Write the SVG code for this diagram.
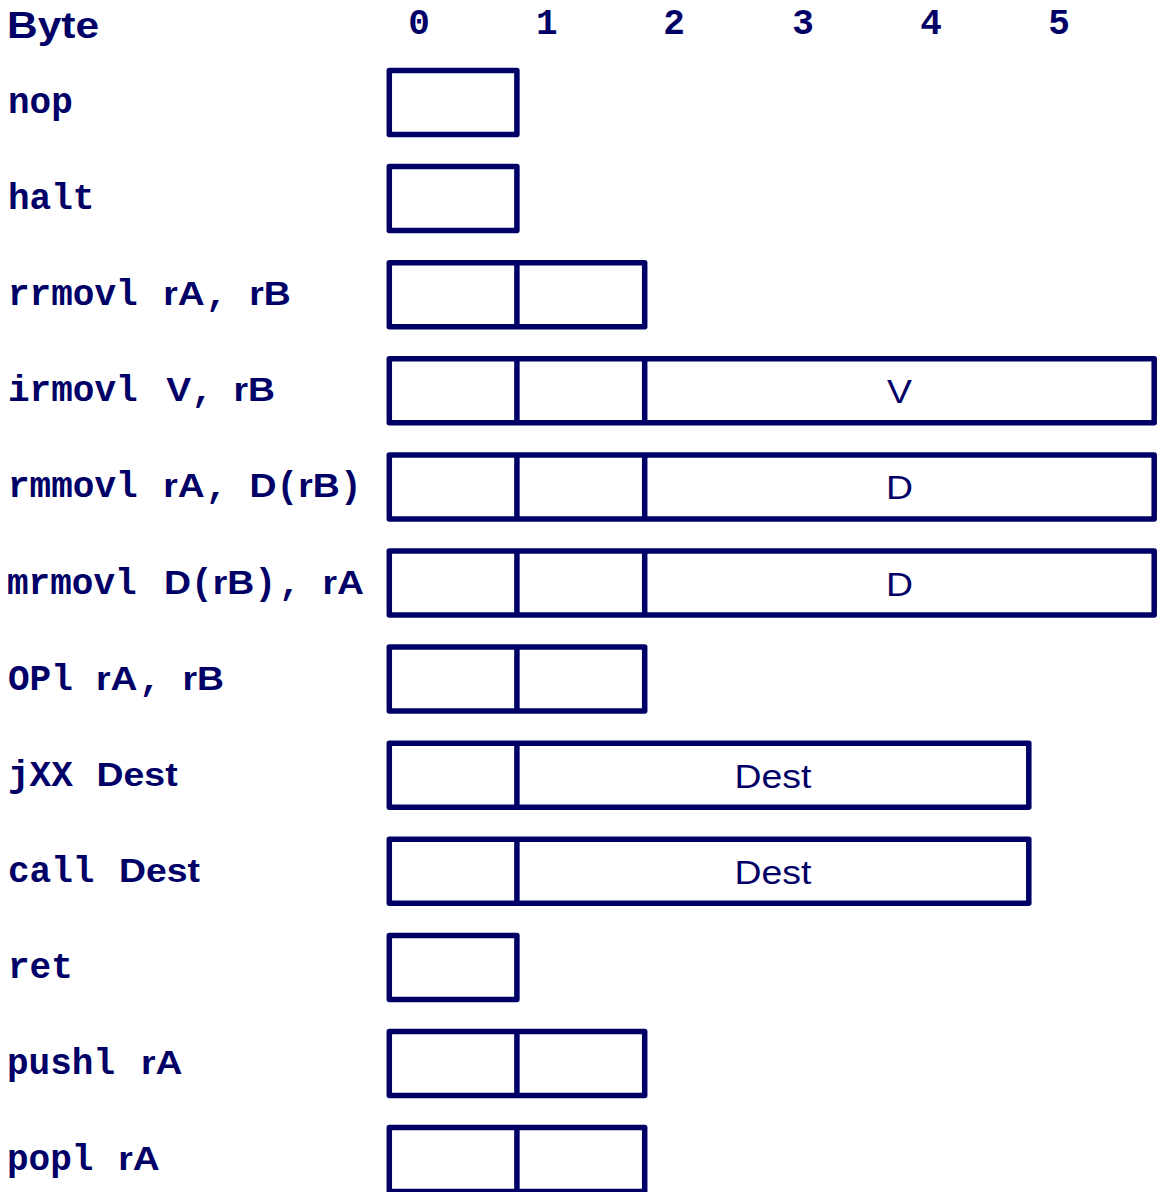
<svg xmlns="http://www.w3.org/2000/svg" width="1157" height="1192" viewBox="0 0 1157 1192">
  <style>
    .m { font-family: "Liberation Mono", "Courier New", monospace; font-weight: bold; font-size: 36px; fill: #000066; }
    .s { font-family: "Liberation Sans", Arial, sans-serif; font-weight: bold; font-size: 34px; }
    .hdr { font-family: "Liberation Sans", Arial, sans-serif; font-weight: bold; font-size: 37px; fill: #000066; }
    .num { text-anchor: middle; }
    .fld { font-family: "Liberation Sans", Arial, sans-serif; font-size: 34px; fill: #000066; text-anchor: middle; }
    .cell { fill: none; stroke: #000066; stroke-width: 5.5; stroke-linejoin: round; }
    .sep { stroke: #000066; stroke-width: 5.5; }
  </style>

  <!-- header: byte offsets -->
  <g id="header">
    <text class="hdr" x="7" y="37.5" textLength="92" lengthAdjust="spacingAndGlyphs">Byte</text>
    <text class="m num" x="419" y="33.5">0</text>
    <text class="m num" x="546.7" y="33.5">1</text>
    <text class="m num" x="674" y="33.5">2</text>
    <text class="m num" x="803" y="33.5">3</text>
    <text class="m num" x="931" y="33.5">4</text>
    <text class="m num" x="1059" y="33.5">5</text>
  </g>

  <g id="nop">
    <text class="m" x="8" y="113">nop</text>
    <rect class="cell" x="389.3" y="70.5" width="127.6" height="64"/>
  </g>

  <g id="halt">
    <text class="m" x="8" y="209.1">halt</text>
    <rect class="cell" x="389.3" y="166.6" width="127.6" height="64"/>
  </g>

  <g id="rrmovl">
    <text class="m" x="8" y="305.2">rrmovl<tspan class="s" x="163.3" textLength="41.5" lengthAdjust="spacingAndGlyphs">rA</tspan><tspan x="205.7">,</tspan><tspan class="s" x="249.3" textLength="41.5" lengthAdjust="spacingAndGlyphs">rB</tspan></text>
    <rect class="cell" x="389.3" y="262.7" width="255.4" height="64"/>
    <line class="sep" x1="516.9" y1="262.7" x2="516.9" y2="326.7"/>
  </g>

  <g id="irmovl">
    <text class="m" x="8" y="401.3">irmovl<tspan class="s" x="166.3" textLength="24.9" lengthAdjust="spacingAndGlyphs">V</tspan><tspan x="191.5">,</tspan><tspan class="s" x="233.6" textLength="41.5" lengthAdjust="spacingAndGlyphs">rB</tspan></text>
    <rect class="cell" x="389.3" y="358.8" width="764.9" height="64"/>
    <line class="sep" x1="516.9" y1="358.8" x2="516.9" y2="422.8"/>
    <line class="sep" x1="644.7" y1="358.8" x2="644.7" y2="422.8"/>
    <text class="fld" x="899.5" y="403.3" textLength="24.9" lengthAdjust="spacingAndGlyphs">V</text>
  </g>

  <g id="rmmovl">
    <text class="m" x="8" y="497.4">rmmovl<tspan class="s" x="163.3" textLength="41.5" lengthAdjust="spacingAndGlyphs">rA</tspan><tspan x="205.7">,</tspan><tspan class="s" x="249.5" textLength="27" lengthAdjust="spacingAndGlyphs">D</tspan><tspan x="276.6">(</tspan><tspan class="s" x="298.3" textLength="41.5" lengthAdjust="spacingAndGlyphs">rB</tspan><tspan x="340">)</tspan></text>
    <rect class="cell" x="389.3" y="454.9" width="764.9" height="64"/>
    <line class="sep" x1="516.9" y1="454.9" x2="516.9" y2="518.9"/>
    <line class="sep" x1="644.7" y1="454.9" x2="644.7" y2="518.9"/>
    <text class="fld" x="899.5" y="499.4" textLength="27" lengthAdjust="spacingAndGlyphs">D</text>
  </g>

  <g id="mrmovl">
    <text class="m" x="7" y="593.5">mrmovl<tspan class="s" x="164" textLength="27" lengthAdjust="spacingAndGlyphs">D</tspan><tspan x="191.1">(</tspan><tspan class="s" x="212.8" textLength="41.5" lengthAdjust="spacingAndGlyphs">rB</tspan><tspan x="254.4">)</tspan><tspan x="279">,</tspan><tspan class="s" x="322.6" textLength="41.5" lengthAdjust="spacingAndGlyphs">rA</tspan></text>
    <rect class="cell" x="389.3" y="551" width="764.9" height="64"/>
    <line class="sep" x1="516.9" y1="551" x2="516.9" y2="615"/>
    <line class="sep" x1="644.7" y1="551" x2="644.7" y2="615"/>
    <text class="fld" x="899.5" y="595.5" textLength="27" lengthAdjust="spacingAndGlyphs">D</text>
  </g>

  <g id="opl">
    <text class="m" x="8" y="689.6">OPl<tspan class="s" x="95.9" textLength="41.5" lengthAdjust="spacingAndGlyphs">rA</tspan><tspan x="139.2">,</tspan><tspan class="s" x="182.6" textLength="41.5" lengthAdjust="spacingAndGlyphs">rB</tspan></text>
    <rect class="cell" x="389.3" y="647.1" width="255.4" height="64"/>
    <line class="sep" x1="516.9" y1="647.1" x2="516.9" y2="711.1"/>
  </g>

  <g id="jxx">
    <text class="m" x="8" y="785.7">jXX<tspan class="s" x="96.6" textLength="81" lengthAdjust="spacingAndGlyphs">Dest</tspan></text>
    <rect class="cell" x="389.3" y="743.2" width="639.5" height="64"/>
    <line class="sep" x1="516.9" y1="743.2" x2="516.9" y2="807.2"/>
    <text class="fld" x="773" y="787.7" textLength="76.9" lengthAdjust="spacingAndGlyphs">Dest</text>
  </g>

  <g id="call">
    <text class="m" x="8" y="881.8">call<tspan class="s" x="119" textLength="81" lengthAdjust="spacingAndGlyphs">Dest</tspan></text>
    <rect class="cell" x="389.3" y="839.3" width="639.5" height="64"/>
    <line class="sep" x1="516.9" y1="839.3" x2="516.9" y2="903.3"/>
    <text class="fld" x="773" y="883.8" textLength="76.9" lengthAdjust="spacingAndGlyphs">Dest</text>
  </g>

  <g id="ret">
    <text class="m" x="8" y="977.9">ret</text>
    <rect class="cell" x="389.3" y="935.4" width="127.6" height="64"/>
  </g>

  <g id="pushl">
    <text class="m" x="7" y="1074">pushl<tspan class="s" x="140.9" textLength="41.5" lengthAdjust="spacingAndGlyphs">rA</tspan></text>
    <rect class="cell" x="389.3" y="1031.5" width="255.4" height="64"/>
    <line class="sep" x1="516.9" y1="1031.5" x2="516.9" y2="1095.5"/>
  </g>

  <g id="popl">
    <text class="m" x="7" y="1170.1">popl<tspan class="s" x="118.3" textLength="41.5" lengthAdjust="spacingAndGlyphs">rA</tspan></text>
    <rect class="cell" x="389.3" y="1127.6" width="255.4" height="64"/>
    <line class="sep" x1="516.9" y1="1127.6" x2="516.9" y2="1191.6"/>
  </g>
</svg>
